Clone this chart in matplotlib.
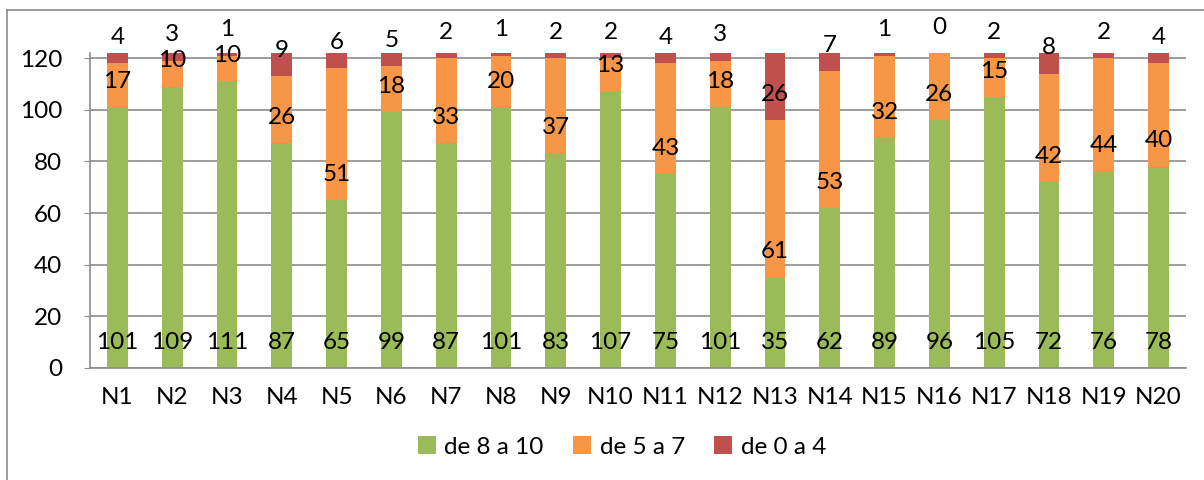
import matplotlib
matplotlib.use("Agg")
import matplotlib.pyplot as plt
import numpy as np
from matplotlib.lines import Line2D

plt.rcParams['font.family'] = ['Lato', 'DejaVu Sans']

# datos
categorias = ['N%d' % i for i in range(1, 21)]
de_8_a_10 = [101, 109, 111, 87, 65, 99, 87, 101, 83, 107, 75, 101, 35, 62, 89, 96, 105, 72, 76, 78]
de_5_a_7 = [17, 10, 10, 26, 51, 18, 33, 20, 37, 13, 43, 18, 61, 53, 32, 26, 15, 42, 44, 40]
de_0_a_4 = [4, 3, 1, 9, 6, 5, 2, 1, 2, 2, 4, 3, 26, 7, 1, 0, 2, 8, 2, 4]
series = [('de 8 a 10', de_8_a_10, '#9BBB59'),
          ('de 5 a 7', de_5_a_7, '#F79646'),
          ('de 0 a 4', de_0_a_4, '#C0504D')]

FS = 17.5

fig = plt.figure(figsize=(12.04, 4.8), dpi=100)
ax = fig.add_axes([90 / 1204, 1 - 368 / 480, 1096 / 1204, 315 / 480])

x = np.arange(len(categorias))
base = np.zeros(len(categorias))
for nombre, vals, color in series:
    vals = np.array(vals)
    ax.bar(x, vals, 0.38, bottom=base, color=color, label=nombre, zorder=2)
    # etiquetas en la base de cada segmento (como Excel "base interior")
    for xi, b, v in zip(x, base, vals):
        ax.text(xi, b + 10, str(v), ha='center', va='center', fontsize=FS,
                color='black', zorder=3, clip_on=False)
    base = base + vals

ax.set_xlim(-0.5, len(categorias) - 0.5)
ax.set_ylim(0, 122)
ax.set_yticks(range(0, 121, 20))
ax.set_xticks(x)
ax.set_xticklabels(categorias)
ax.yaxis.grid(True, color='#8C8C8C', linewidth=1.2, zorder=0)
ax.set_axisbelow(True)
for s in ['top', 'right']:
    ax.spines[s].set_visible(False)
for s in ['left', 'bottom']:
    ax.spines[s].set_color('#8C8C8C')
    ax.spines[s].set_linewidth(1.2)
ax.tick_params(axis='y', length=4, color='#8C8C8C', labelsize=FS, pad=16)
ax.tick_params(axis='x', length=0, labelsize=FS, pad=14)

ax.legend(loc='center', bbox_to_anchor=(622 / 1204, 1 - 447 / 480),
          bbox_transform=fig.transFigure, ncol=3, frameon=False, fontsize=FS,
          handlelength=0.75, handleheight=0.75, handletextpad=0.35, columnspacing=1.2)

# borde del grafico
fig.add_artist(Line2D([7 / 1204, 7 / 1204], [0, 1 - 10 / 480], color='#8C8C8C', linewidth=1.2))
fig.add_artist(Line2D([7 / 1204, 1], [1 - 10 / 480, 1 - 10 / 480], color='#8C8C8C', linewidth=1.2))

fig.savefig('out.png', dpi=100)
